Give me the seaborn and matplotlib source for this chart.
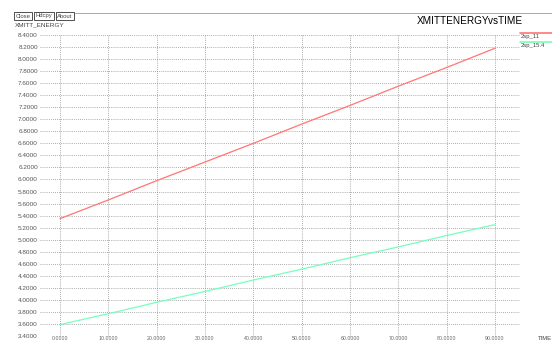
import numpy as np
import pandas as pd
import matplotlib
matplotlib.use("Agg")
import matplotlib.pyplot as plt
from matplotlib.lines import Line2D
from matplotlib.patches import Rectangle
import seaborn as sns

# ---- data ----
time = [0, 1, 2, 3, 4, 5, 6, 7, 8, 9]
energy_11 = [5.35, 5.66, 5.98, 6.29, 6.60, 6.92, 7.23, 7.55, 7.86, 8.18]
energy_154 = [3.59, 3.77, 3.96, 4.14, 4.33, 4.51, 4.70, 4.88, 5.07, 5.25]
series_names = ["2sp_11", "2sp_15.4"]
series_colors = ["#ff7575", "#75ffbd"]
y_ticks = [round(3.4 + 0.2 * i, 1) for i in range(26)]
x_tick_labels = ["0.0000", "10.0000", "20.0000", "30.0000", "40.0000",
                 "50.0000", "60.0000", "70.0000", "80.0000", "90.0000"]
buttons = ["Close", "Hdcpy", "About"]

df = pd.DataFrame({
    "TIME": time * 2,
    "XMITT_ENERGY": energy_11 + energy_154,
    "series": [series_names[0]] * len(time) + [series_names[1]] * len(time),
})

sns.set_theme(style="white")
plt.rcParams["font.family"] = ["Liberation Sans", "DejaVu Sans"]

W, H = 552, 343
fig = plt.figure(figsize=(W / 100, H / 100), dpi=100)
fig.patch.set_facecolor("white")
ax = fig.add_axes([40 / W, 7 / H, 480 / W, 301 / H])

sns.lineplot(data=df, x="TIME", y="XMITT_ENERGY", hue="series",
             palette=series_colors, ax=ax, legend=False, linewidth=0.9)

ax.set_xlim(-20 / 48.3, 9 + 25 / 48.3)
ax.set_ylim(3.4, 8.4)
ax.set_yticks(y_ticks)
ax.set_yticklabels([f"{v:.4f}" for v in y_ticks])
ax.set_xticks(time)
ax.set_xticklabels(x_tick_labels)
ax.tick_params(axis="y", length=0, labelsize=4.6, colors="#555555", pad=1.5)
ax.tick_params(axis="x", length=0, labelsize=3.8, colors="#666666", pad=0.3)
ax.set_xlabel("")
ax.set_ylabel("")
for s in ax.spines.values():
    s.set_visible(False)
ax.grid(True, color="#909090", linestyle=(0, (1, 1.5)), linewidth=0.6)
ax.set_axisbelow(True)
ax.set_facecolor("white")
for ln in ax.get_xgridlines():
    ln.set_clip_on(False)

# header widgets
def px(x, y):
    return x / W, 1 - y / H

bx = [(14, 32), (34, 54), (56, 74)]
for (x0, x1), name in zip(bx, buttons):
    fig.patches.append(Rectangle(px(x0, 20), (x1 - x0) / W, 8 / H,
                                 transform=fig.transFigure, fill=False,
                                 edgecolor="#333333", linewidth=0.6))
    fig.text(*px((x0 + x1) / 2, 16), name, fontsize=4.2, ha="center",
             va="center", color="#444444")
fig.lines.append(Line2D([75 / W, 1], [1 - 12.5 / H] * 2, transform=fig.transFigure,
                        color="#aaaaaa", linewidth=0.7))
fig.text(*px(15, 25), "XMITT_ENERGY", fontsize=4.6, ha="left", va="center",
         color="#444444")
fig.text(*px(523, 21), "XMITTENERGYvsTIME", fontsize=7.2, ha="right",
         va="center", color="black")

# legend
for i, (name, col) in enumerate(zip(series_names, series_colors)):
    yy = 33 + i * 9
    fig.lines.append(Line2D([520 / W, 552 / W], [1 - yy / H] * 2,
                            transform=fig.transFigure, color=col, linewidth=1.2))
    fig.text(*px(521, yy + 3.5), name, fontsize=4.2, ha="left", va="center",
             color="#444444")

fig.text(*px(538, 338), "TIME", fontsize=4.2, ha="left", va="center",
         color="#444444")

fig.savefig("out.png", dpi=100)
